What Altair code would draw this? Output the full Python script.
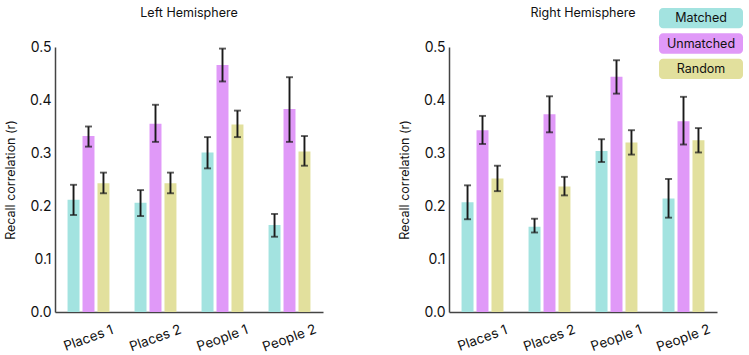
import altair as alt
import pandas as pd

categories = ["Places 1", "Places 2", "People 1", "People 2"]
groups = ["Matched", "Unmatched", "Random"]
colors = ["#a3e3e0", "#e099f8", "#e2e09d"]
panel_titles = ["Left Hemisphere", "Right Hemisphere"]

# Left hemisphere
left_matched = [0.212, 0.206, 0.301, 0.164]
left_matched_lo = [0.183, 0.181, 0.271, 0.142]
left_matched_hi = [0.240, 0.230, 0.330, 0.185]
left_unmatched = [0.332, 0.355, 0.466, 0.383]
left_unmatched_lo = [0.312, 0.321, 0.435, 0.321]
left_unmatched_hi = [0.350, 0.391, 0.497, 0.443]
left_random = [0.243, 0.243, 0.354, 0.303]
left_random_lo = [0.224, 0.224, 0.330, 0.276]
left_random_hi = [0.263, 0.263, 0.380, 0.332]

# Right hemisphere
right_matched = [0.207, 0.161, 0.304, 0.214]
right_matched_lo = [0.175, 0.150, 0.283, 0.178]
right_matched_hi = [0.239, 0.176, 0.326, 0.251]
right_unmatched = [0.343, 0.373, 0.444, 0.360]
right_unmatched_lo = [0.317, 0.339, 0.412, 0.316]
right_unmatched_hi = [0.370, 0.407, 0.475, 0.406]
right_random = [0.252, 0.237, 0.320, 0.324]
right_random_lo = [0.228, 0.220, 0.297, 0.301]
right_random_hi = [0.276, 0.255, 0.343, 0.347]

y_ticks = [0.0, 0.1, 0.2, 0.3, 0.4, 0.5]

FONT = "Inter"
W, H = 268, 265


def build_df(series):
    rows = []
    for g, (vals, lo, hi) in zip(groups, series):
        for c, v, l, h in zip(categories, vals, lo, hi):
            rows.append({"category": c, "group": g, "value": v, "lo": l, "hi": h})
    return pd.DataFrame(rows)


left_df = build_df([
    (left_matched, left_matched_lo, left_matched_hi),
    (left_unmatched, left_unmatched_lo, left_unmatched_hi),
    (left_random, left_random_lo, left_random_hi),
])
right_df = build_df([
    (right_matched, right_matched_lo, right_matched_hi),
    (right_unmatched, right_unmatched_lo, right_unmatched_hi),
    (right_random, right_random_lo, right_random_hi),
])

color_scale = alt.Scale(domain=groups, range=colors)


def panel(df, title, legend=False):
    base = alt.Chart(df)
    x = alt.X(
        "category:N",
        sort=categories,
        scale=alt.Scale(paddingInner=0.33, paddingOuter=0.165),
        axis=alt.Axis(
            title=None, labelAngle=-20, labelAlign="center", labelBaseline="middle",
            labelPadding=26, ticks=False, labelFontSize=13.5, labelColor="#111",
            domainColor="#444", domainWidth=1.5,
        ),
    )
    xo = alt.XOffset("group:N", sort=groups,
                     scale=alt.Scale(paddingInner=0.2, paddingOuter=0.1))
    y_scale = alt.Scale(domain=[0, 0.5], nice=False)
    bars = base.mark_bar().encode(
        x=x,
        xOffset=xo,
        y=alt.Y(
            "value:Q",
            scale=y_scale,
            axis=alt.Axis(
                title="Recall correlation (r)", values=y_ticks, format=".1f",
                grid=False, ticks=False, labelFontSize=14, labelColor="#111",
                labelPadding=4, titleFontSize=12.5, titleFontWeight="normal",
                titleColor="#111", titlePadding=12,
                domainColor="#444", domainWidth=1.5,
            ),
        ),
        color=alt.Color("group:N", scale=color_scale, legend=None),
    )
    rules = base.mark_rule(color="#1a1a1a", strokeWidth=1.9).encode(
        x=alt.X("category:N", sort=categories),
        xOffset=xo,
        y=alt.Y("lo:Q", scale=y_scale),
        y2="hi:Q",
    )
    cap_lo = base.mark_tick(color="#1a1a1a", thickness=1.9, size=7).encode(
        x=alt.X("category:N", sort=categories),
        xOffset=xo,
        y=alt.Y("lo:Q", scale=y_scale),
    )
    cap_hi = base.mark_tick(color="#1a1a1a", thickness=1.9, size=7).encode(
        x=alt.X("category:N", sort=categories),
        xOffset=xo,
        y=alt.Y("hi:Q", scale=y_scale),
    )
    title_df = pd.DataFrame({"t": [title]})
    title_mark = alt.Chart(title_df).mark_text(
        fontSize=12.5, color="#111", font=FONT, baseline="middle", align="center",
        clip=False,
    ).encode(x=alt.value(W / 2), y=alt.value(-34), text="t:N")
    chart = alt.layer(bars, rules, cap_lo, cap_hi, title_mark)
    if legend:
        leg_df = pd.DataFrame({"group": groups})
        ly = alt.Scale(domain=groups, range=[-39, 32], paddingInner=0.2, paddingOuter=0)
        boxes = alt.Chart(leg_df).mark_rect(cornerRadius=4, clip=False).encode(
            x=alt.value(210), x2=alt.value(294),
            y=alt.Y("group:N", sort=groups, scale=ly, axis=None),
            color=alt.Color("group:N", scale=color_scale, legend=None),
        )
        texts = alt.Chart(leg_df).mark_text(
            fontSize=12.5, color="#111", font=FONT, baseline="middle", clip=False
        ).encode(
            x=alt.value(252),
            y=alt.Y("group:N", sort=groups, scale=ly, axis=None, bandPosition=0.5),
            text="group:N",
        )
        legend_layer = alt.layer(boxes, texts)
        chart = alt.layer(chart, legend_layer).resolve_scale(y="independent")
    return chart.properties(width=W, height=H)


left = panel(left_df, panel_titles[0])
right = panel(right_df, panel_titles[1], legend=True)

chart = alt.hconcat(left, right, spacing=75).properties(
    padding={"left": 4, "top": 7, "right": 5, "bottom": 5}
).configure(font=FONT).configure_view(stroke=None).configure_axis(
    labelFont=FONT, titleFont=FONT
)

chart.save("out.html", embed_options={"renderer": "svg", "actions": False})
